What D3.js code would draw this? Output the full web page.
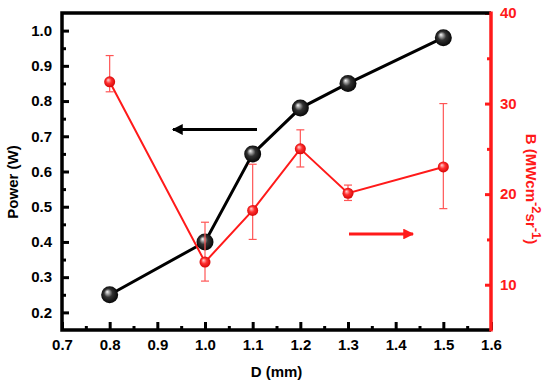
<!DOCTYPE html>
<html>
<head>
<meta charset="utf-8">
<script src="https://cdn.jsdelivr.net/npm/d3@7"></script>
<style>
  body { margin: 0; background: #fff; }
  text { font-family: "Liberation Sans", Arial, sans-serif; font-weight: bold; }
</style>
</head>
<body>
<svg id="chart" width="550" height="385"></svg>
<script>
  // data
  const dValues = [0.8, 1.0, 1.1, 1.2, 1.3, 1.5];
  const power = [0.25, 0.40, 0.65, 0.78, 0.85, 0.98];
  const brightness = [32.4, 12.5, 18.2, 25.0, 20.1, 23.0];
  const bErrLow = [31.3, 10.4, 15.0, 23.0, 19.3, 18.4];
  const bErrHigh = [35.3, 16.9, 23.3, 27.1, 21.0, 30.0];
  const xTicks = [0.7, 0.8, 0.9, 1.0, 1.1, 1.2, 1.3, 1.4, 1.5, 1.6];
  const leftTicks = [0.2, 0.3, 0.4, 0.5, 0.6, 0.7, 0.8, 0.9, 1.0];
  const rightTicks = [10, 20, 30, 40];

  const M = {left: 62, right: 491, top: 13, bottom: 330};
  const RED = '#ff1a1a';

  const x = d3.scaleLinear().domain([0.7, 1.6]).range([M.left, M.right]);
  const yL = d3.scaleLinear().domain([0.15, 1.05]).range([M.bottom, M.top]);
  const yR = d3.scaleLinear().domain([5, 40]).range([M.bottom, M.top]);

  const svg = d3.select('#chart');
  const defs = svg.append('defs');

  function sphereGrad(id, light, mid, dark) {
    const g = defs.append('radialGradient').attr('id', id)
      .attr('cx', '50%').attr('cy', '50%').attr('r', '55%')
      .attr('fx', '35%').attr('fy', '32%');
    g.append('stop').attr('offset', '0%').attr('stop-color', light);
    g.append('stop').attr('offset', '45%').attr('stop-color', mid);
    g.append('stop').attr('offset', '100%').attr('stop-color', dark);
  }
  sphereGrad('gBlack', '#f8f8f8', '#333', '#000');
  sphereGrad('gRed', '#ffd6d6', '#ff3030', '#d00000');

  const arrowHead = (id, color) => defs.append('marker').attr('id', id)
    .attr('viewBox', '0 0 10 10').attr('refX', 9).attr('refY', 5)
    .attr('markerWidth', 5).attr('markerHeight', 3.6).attr('orient', 'auto')
    .attr('markerUnits', 'strokeWidth')
    .append('path').attr('d', 'M0,0 L10,5 L0,10 Z').attr('fill', color);
  arrowHead('arrK', '#000');
  arrowHead('arrR', RED);

  // axes: ticks inside
  const xMajor = d3.axisBottom(x).tickValues(xTicks).tickSize(-8).tickPadding(9)
    .tickFormat(d3.format('.1f')).tickSizeOuter(0);
  const xMinor = d3.axisBottom(x).tickValues(d3.range(0.75, 1.6, 0.1)).tickSize(-4)
    .tickFormat('').tickSizeOuter(0);
  const lMajor = d3.axisLeft(yL).tickValues(leftTicks).tickSize(-7).tickPadding(10)
    .tickFormat(d3.format('.1f')).tickSizeOuter(0);
  const lMinor = d3.axisLeft(yL).tickValues(d3.range(0.25, 1.0, 0.1)).tickSize(-4)
    .tickFormat('').tickSizeOuter(0);
  const rMajor = d3.axisRight(yR).tickValues(rightTicks).tickSize(-6).tickPadding(9)
    .tickFormat(d3.format('d')).tickSizeOuter(0);
  const rMinor = d3.axisRight(yR).tickValues([15, 25, 35]).tickSize(-4)
    .tickFormat('').tickSizeOuter(0);

  function styleAxis(g, color) {
    g.select('.domain').remove();
    g.selectAll('line').attr('stroke', color).attr('stroke-width', 3);
    g.selectAll('text').attr('fill', color).attr('font-size', 15);
  }

  svg.append('g').attr('transform', `translate(0,${M.bottom})`).call(xMinor).call(styleAxis, '#000');
  svg.append('g').attr('transform', `translate(0,${M.bottom})`).call(xMajor).call(styleAxis, '#000');
  svg.append('g').attr('transform', `translate(${M.left},0)`).call(lMinor).call(styleAxis, '#000');
  svg.append('g').attr('transform', `translate(${M.left},0)`).call(lMajor).call(styleAxis, '#000');
  svg.append('g').attr('transform', `translate(${M.right},0)`).call(rMinor).call(styleAxis, RED);
  svg.append('g').attr('transform', `translate(${M.right},0)`).call(rMajor).call(styleAxis, RED);

  // frame
  svg.append('path')
    .attr('d', `M${M.right},${M.top} H${M.left} V${M.bottom} H${M.right}`)
    .attr('fill', 'none').attr('stroke', '#000').attr('stroke-width', 3.5);
  svg.append('line')
    .attr('x1', M.right).attr('x2', M.right).attr('y1', M.top - 1.5).attr('y2', M.bottom + 1.5)
    .attr('stroke', RED).attr('stroke-width', 3.5);

  // axis titles
  svg.append('text').attr('x', (M.left + M.right) / 2).attr('y', 377)
    .attr('text-anchor', 'middle').attr('font-size', 15).text('D (mm)');
  svg.append('text').attr('transform', 'translate(18,182) rotate(-90)')
    .attr('text-anchor', 'middle').attr('font-size', 15).text('Power (W)');
  const rt = svg.append('text').attr('transform', 'translate(526,189) rotate(90)')
    .attr('text-anchor', 'middle').attr('font-size', 15).attr('fill', RED);
  rt.append('tspan').text('B (MWcm');
  rt.append('tspan').attr('dy', -6).attr('font-size', 13).text('-2');
  rt.append('tspan').attr('dy', 6).text('sr');
  rt.append('tspan').attr('dy', -6).attr('font-size', 13).text('-1');
  rt.append('tspan').attr('dy', 6).text(')');

  // power series
  const powerData = dValues.map((d, i) => ({d, v: power[i]}));
  svg.append('path').datum(powerData)
    .attr('d', d3.line().x(p => x(p.d)).y(p => yL(p.v)))
    .attr('fill', 'none').attr('stroke', '#000').attr('stroke-width', 3);
  svg.selectAll('.pw').data(powerData).enter().append('circle')
    .classed('pw', true)
    .attr('cx', p => x(p.d)).attr('cy', p => yL(p.v)).attr('r', 8.5)
    .attr('fill', 'url(#gBlack)');

  // brightness series
  const bData = dValues.map((d, i) => ({d, v: brightness[i], lo: bErrLow[i], hi: bErrHigh[i]}));
  const errG = svg.append('g').attr('stroke', '#ff5555').attr('stroke-width', 1.2);
  bData.forEach(p => {
    const cx = x(p.d);
    errG.append('line').attr('x1', cx).attr('x2', cx).attr('y1', yR(p.lo)).attr('y2', yR(p.hi));
    errG.append('line').attr('x1', cx - 4).attr('x2', cx + 4).attr('y1', yR(p.lo)).attr('y2', yR(p.lo));
    errG.append('line').attr('x1', cx - 4).attr('x2', cx + 4).attr('y1', yR(p.hi)).attr('y2', yR(p.hi));
  });
  svg.append('path').datum(bData)
    .attr('d', d3.line().x(p => x(p.d)).y(p => yR(p.v)))
    .attr('fill', 'none').attr('stroke', RED).attr('stroke-width', 2);
  svg.selectAll('.br').data(bData).enter().append('circle')
    .classed('br', true)
    .attr('cx', p => x(p.d)).attr('cy', p => yR(p.v)).attr('r', 5.5)
    .attr('fill', 'url(#gRed)');

  // arrows pointing to the axes
  svg.append('line').attr('x1', 257).attr('x2', 173).attr('y1', 129.5).attr('y2', 129.5)
    .attr('stroke', '#000').attr('stroke-width', 3).attr('marker-end', 'url(#arrK)');
  svg.append('line').attr('x1', 349).attr('x2', 413).attr('y1', 234).attr('y2', 234)
    .attr('stroke', RED).attr('stroke-width', 3).attr('marker-end', 'url(#arrR)');
</script>
</body>
</html>
